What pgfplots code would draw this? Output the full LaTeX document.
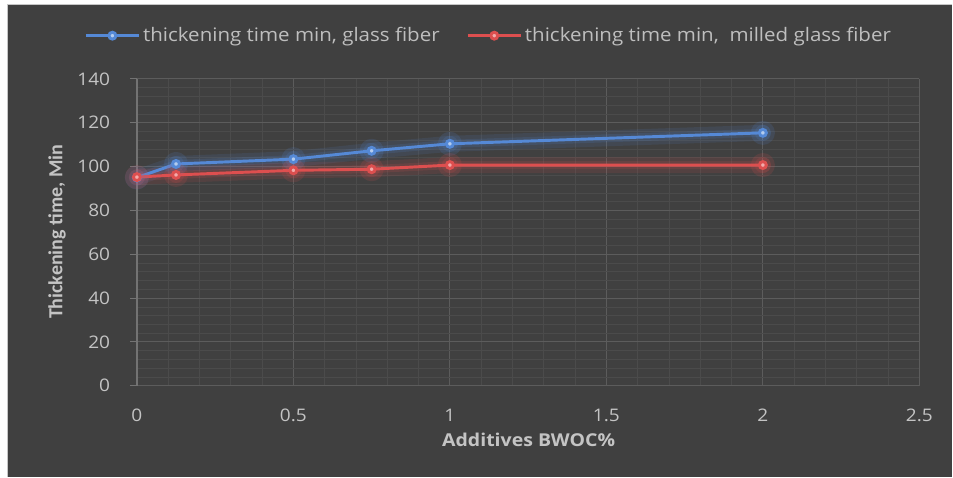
\documentclass[border=0pt]{standalone}
\usepackage{fontspec}
\setmainfont{Open Sans}
\newfontfamily\carlito{Carlito}
\usepackage{pgfplots}
\pgfplotsset{compat=1.18}
\definecolor{bg}{HTML}{404040}
\definecolor{txt}{HTML}{C4C4C4}
\definecolor{lblue}{HTML}{5589D6}
\definecolor{lred}{HTML}{DD4F4F}
\definecolor{mblue}{HTML}{B4CCEE}
\definecolor{mred}{HTML}{F2AAAA}
\definecolor{gmaj}{HTML}{5C5C5C}
\definecolor{gmin}{HTML}{4B4B4B}
\pgfplotstableread{
x y
0 95
0.125 101.2
0.5 103.4
0.75 107.2
1 110.4
2 115.4
}\glass
\pgfplotstableread{
x y
0 95.2
0.125 96.2
0.5 98.3
0.75 98.8
1 100.7
2 100.7
}\milled
\begin{document}
\begin{tikzpicture}
\fill[white] (0pt,0pt) rectangle (714.75pt,357.75pt);
\fill[bg] (5.5pt,0pt) rectangle (714.75pt,354.5pt);
\draw[gray!45, line width=1pt] (5.5pt,0pt) -- (5.5pt,354.5pt) -- (714.75pt,354.5pt);
\useasboundingbox (0pt,0pt) rectangle (714.75pt,357.75pt);
\begin{axis}[
  at={(102.75pt,68.25pt)}, anchor=south west,
  scale only axis, width=587.25pt, height=230.25pt,
  xmin=0, xmax=2.5, ymin=0, ymax=140,
  xtick={0,0.5,1,1.5,2,2.5},
  xticklabels={0,0.5,1,1.5,2,2.5},
  ytick={0,20,...,140},
  minor x tick num=4, minor y tick num=4,
  grid=both,
  major grid style={gmaj, line width=0.8pt},
  minor grid style={gmin, line width=0.5pt},
  axis x line*=bottom, axis y line*=left,
  x axis line style={gmaj, line width=1pt, -},
  y axis line style={gray!80!bg, line width=1pt, -},
  tick align=outside,
  xtick style={draw=none},
  ytick style={gray!80!bg, line width=0.8pt},
  major tick length=5.25pt,
  minor tick length=0pt,
  /pgf/number format/assume math mode=true,
  ticklabel style={font=\fontsize{13}{15}\selectfont, text=txt, xscale=1.1},
  xticklabel style={yshift=-9pt},
  yticklabel style={xshift=-10pt},
  legend style={at={(0.450,1.141)}, anchor=center, draw=none, fill=none,
    font=\fontsize{14}{16}\selectfont, text=txt!110,
    legend columns=2, /tikz/every even column/.append style={column sep=18pt}},
  legend cell align=left,
  legend image code/.code={\draw[mark repeat=2,mark phase=2,#1] plot coordinates {(0cm,0cm) (0.7cm,0cm) (1.4cm,0cm)};},
]
% glow
\addplot[forget plot, lblue, opacity=0.12, line width=12pt, line join=round, line cap=round] table {\glass};
\addplot[forget plot, lblue, opacity=0.15, line width=6pt, line join=round, line cap=round, mark=*, mark size=6pt, mark options={draw=none, fill=lblue}] table {\glass};
\addplot[forget plot, lred, opacity=0.12, line width=12pt, line join=round, line cap=round] table {\milled};
\addplot[forget plot, lred, opacity=0.15, line width=6pt, line join=round, line cap=round, mark=*, mark size=6pt, mark options={draw=none, fill=lred}] table {\milled};
% series
\addplot[lblue, line width=2.2pt, mark=*, mark size=2.6pt, mark options={draw=none, fill=mblue}] table {\glass};
\addlegendentry{\scalebox{1.1}[1]{thickening time min, glass fiber}}
\addplot[lred, line width=2.2pt, mark=*, mark size=2.6pt, mark options={draw=none, fill=mred}] table {\milled};
\addlegendentry{\scalebox{1.1}[1]{thickening time min,\ \ milled glass fiber}}
\end{axis}
\node[text=txt, font=\fontsize{13.3}{15}\selectfont\bfseries, xscale=1.1] at (396.75pt,27.75pt) {Additives BWOC\%};
\node[text=txt, font=\carlito\fontsize{15}{17}\selectfont\bfseries, rotate=90] at (42.75pt,183.75pt) {Thickening time, Min};
\end{tikzpicture}
\end{document}
